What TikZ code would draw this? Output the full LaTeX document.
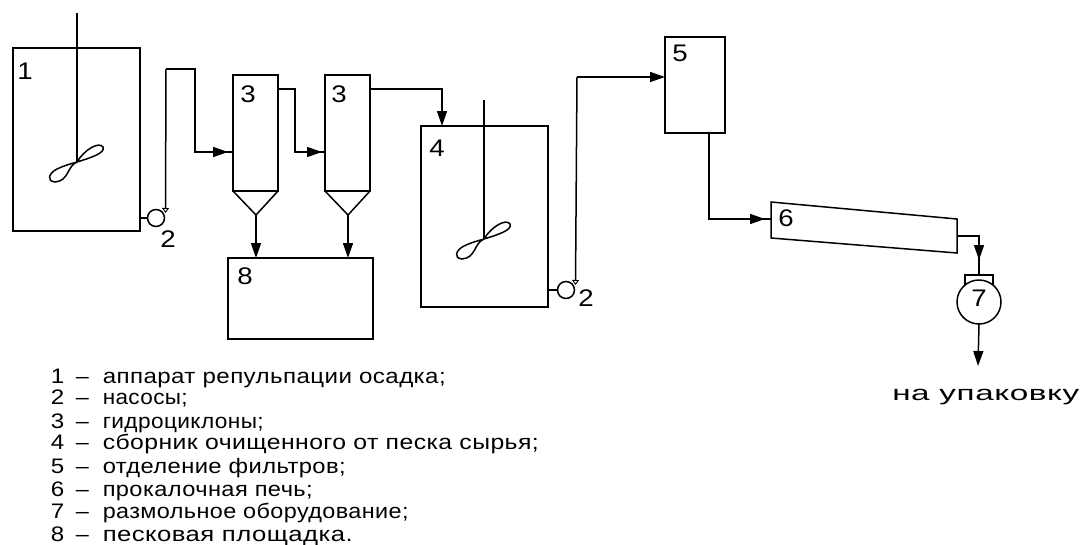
\documentclass[tikz,border=0pt]{standalone}
\usepackage{graphicx}
\usepackage{fontspec}
\usetikzlibrary{arrows.meta,calc}
\setmainfont[FakeStretch=1.15,LetterSpace=2]{Liberation Sans}
\newsavebox{\fitbox}
\newcommand{\fitw}[2]{\sbox{\fitbox}{#2}\pgfmathsetmacro{\fitr}{#1/(\wd\fitbox/1pt)}\scalebox{\fitr}[1]{\usebox{\fitbox}}}
\tikzset{
  vessel/.style={draw,rectangle,inner sep=0pt,outer sep=0pt},
  pumpc/.style={draw,circle,inner sep=0pt,outer sep=0pt,minimum size=17pt},
  tag/.style={inner sep=0pt,font=\fontsize{24}{24}\selectfont},
  legend/.style={inner sep=0pt,anchor=base west,font=\fontsize{21}{21}\selectfont},
  flow/.style={-{Triangle[length=15pt,width=10pt]}},
  thinpipe/.style={line width=1.5pt},
  back/.style={{Triangle[open,length=5pt,width=7pt,line width=0.9pt]}-}
}
\begin{document}
\begin{tikzpicture}[x=1pt,y=-1pt,line width=1.5pt]
\useasboundingbox (0,0) rectangle (1082,544);
% vessels
\node[vessel,minimum width=127pt,minimum height=183pt] (b1) at (76.5,139.5) {};
\node[vessel,minimum width=45pt,minimum height=116pt] (c1) at (255.5,133) {};
\node[vessel,minimum width=45pt,minimum height=116pt] (c2) at (347.5,133) {};
\node[vessel,minimum width=145pt,minimum height=81pt] (b8) at (300.5,298.5) {};
\node[vessel,minimum width=127pt,minimum height=181pt] (b4) at (484.5,216.5) {};
\node[vessel,minimum width=60pt,minimum height=96pt] (b5) at (695,85) {};
\node[pumpc] (p1) at (156,218) {};
\node[pumpc] (p2) at (566,290) {};
\node[draw,circle,inner sep=0pt,outer sep=0pt,minimum size=44pt] (m7) at (979,302) {};
% tags
\node[tag] (t1) at (25,71) {1};
\node[tag] (t2a) at (168,239) {2};
\node[tag] (t3a) at (248,94) {3};
\node[tag] (t3b) at (339,94) {3};
\node[tag] (t4) at (437,148) {4};
\node[tag] (t2b) at (586,298) {2};
\node[tag] (t5) at (680,53) {5};
\node[tag] (t6) at (786,218) {6};
\node[tag] (t7) at (979,298) {7};
\node[tag] (t8) at (245,276) {8};
% kiln
\coordinate (k1) at (771,202);
\coordinate (k2) at (957,219);
\coordinate (k3) at (957,253);
\coordinate (k4) at (771,238);
\draw (k1) -- (k2) -- (k3) -- (k4) -- cycle;
% cones
\coordinate (a1) at (256,215);
\coordinate (a2) at (348,215);
\draw (c1.south west) -- (a1) -- (c1.south east);
\draw (c2.south west) -- (a2) -- (c2.south east);
\draw[flow] (a1) -- (a1 |- b8.north);
\draw[flow] (a2) -- (a2 |- b8.north);
% shafts and impellers
\coordinate (s1) at (77,162);
\coordinate (s1t) at (77,13);
\draw[thinpipe] (s1t) -- (s1);
\draw (s1) .. controls (84,150) and (99,141) .. (103,147) .. controls (106,153) and (90,158) .. (77,162)
  .. controls (67,166) and (69,181) .. (55,182) .. controls (46,181) and (49,173) .. (57,169) .. controls (63,166) and (70,164) .. (77,162);
\coordinate (s4) at (484,239);
\coordinate (s4t) at (484,100);
\draw[thinpipe] (s4t) -- (s4);
\draw (s4) .. controls (491,227) and (506,218) .. (510,224) .. controls (513,230) and (497,235) .. (484,239)
  .. controls (474,243) and (476,258) .. (462,259) .. controls (453,258) and (456,250) .. (464,246) .. controls (470,243) and (477,241) .. (484,239);
% pumps and piping
\draw (b1.east |- p1) -- (p1);
\draw (b4.east |- p2) -- (p2);
\coordinate (e1) at (165.5,213);
\coordinate (u1) at (166,69);
\coordinate (v1) at (195,69);
\coordinate (w1) at (195,152);
\draw[thinpipe,back] (e1) -- (u1);
\draw (u1) -- (v1) -- (w1) -- (c1.west |- w1);
\draw[flow,shorten >=5pt] (w1) -- (c1.west |- w1);
\coordinate (h1) at (295,89);
\coordinate (w2) at (295,152);
\draw (c1.east |- h1) -- (h1) -- (w2) -- (c2.west |- w2);
\draw[flow,shorten >=3pt] (w2) -- (c2.west |- w2);
\coordinate (h2) at (442,89);
\draw[flow] (c2.east |- h2) -- (h2) -- (h2 |- b4.north);
\coordinate (e2) at (575.5,285);
\coordinate (u2) at (577,77);
\draw[thinpipe,back] (e2) -- (u2);
\draw[flow] (u2) -- (b5.west |- u2);
\coordinate (d5) at (709,219);
\draw (d5 |- b5.south) -- (d5) -- (k1 |- d5);
\draw[flow,shorten >=6pt] (d5) -- (k1 |- d5);
\coordinate (o6) at (957,236);
\coordinate (b7) at (979,275);
\draw (o6) -- (o6 -| b7) -- (b7);
\draw[flow] (o6 -| b7) -- ++(0,24);
\coordinate (ha) at (965,285);
\coordinate (hb) at (993,285);
\draw (ha) -- (965,275) -- (993,275) -- (hb);
\coordinate (o7) at (978,366);
\draw[flow] (m7.south) -- (o7);
% outlet caption
\node[legend,anchor=base east] (up) at (1080,400) {\fitw{187}{на упаковку}};
% legend
\foreach \y/\n/\w/\t in {383/1/343/аппарат репульпации осадка;,404/2/85/насосы;,428/3/161/гидроциклоны;,449/4/436/сборник очищенного от песка сырья;,473/5/243/отделение фильтров;,496/6/210/прокалочная печь;,518/7/306/размольное оборудование;,541/8/250/песковая площадка.}{
  \node[legend] (n\n) at (50,\y) {\n};
  \node[legend] (d\n) at (75,\y) {\fitw{13}{–}};
  \node[legend] (l\n) at (102,\y) {\fitw{\w}{\t}};
}
\end{tikzpicture}
\end{document}
